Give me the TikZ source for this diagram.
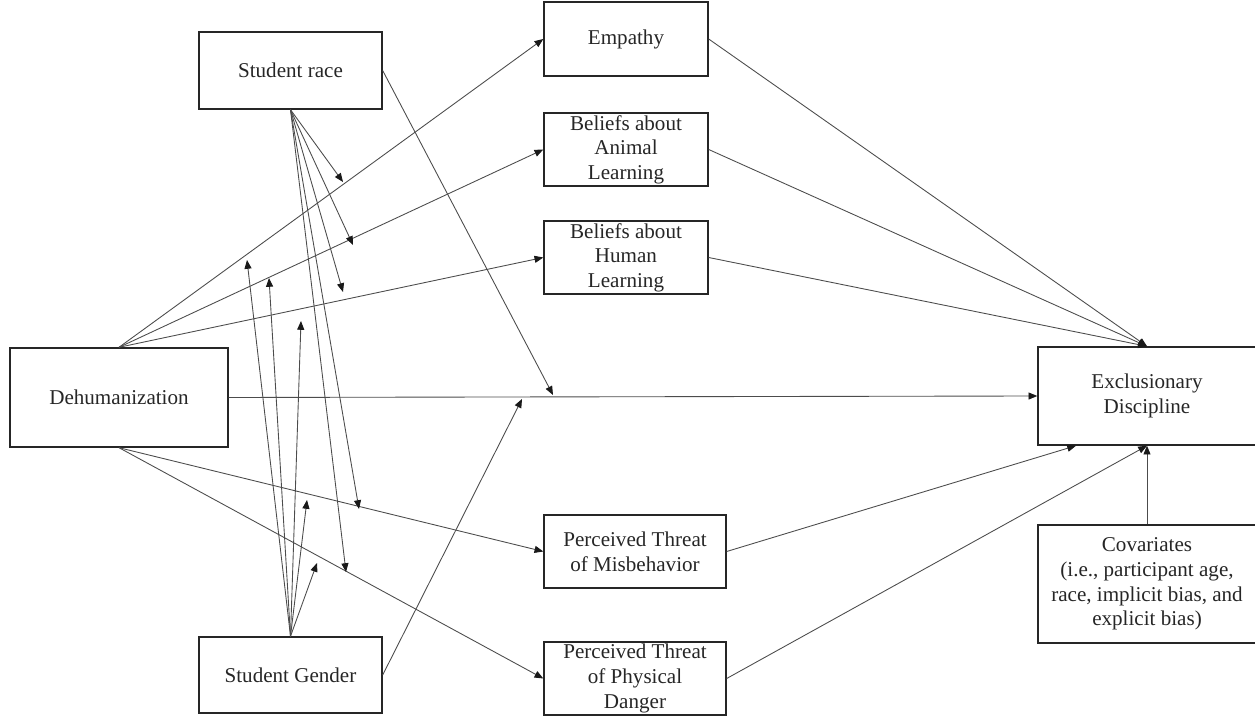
\documentclass[tikz,border=0pt]{standalone}
\usepackage{fontspec}
\setmainfont{Liberation Serif}
\usetikzlibrary{arrows.meta}
\usetikzlibrary{positioning}

\tikzset{
  box/.style={draw=black!85, line width=0.8pt, align=center, inner sep=0pt,
              font=\fontsize{12}{14}\selectfont, text=black!85},
  link/.style={draw=black!70, line width=0.5pt, -{Triangle[length=5pt,width=4pt,color=black!90]}}
}

\begin{document}
\begin{tikzpicture}[x=0.02cm, y=-0.02cm]
 \clip (0,0) rectangle (1255,719);

 %left column
 \node[box, minimum width=3.66cm, minimum height=1.54cm] (race) at (290.5,70.5) {Student race};
 \node[box, minimum width=4.36cm, minimum height=1.98cm] (dehum) at (119,397.5) {Dehumanization};
 \node[box, minimum width=3.66cm, minimum height=1.52cm] (gender) at (290.5,675) {Student Gender};

 %mediators
 \node[box, minimum width=3.28cm, minimum height=1.48cm] (empathy) at (626,39) {Empathy};
 \node[box, minimum width=3.28cm, minimum height=1.46cm] (animal) at (626,149.5) {Beliefs about\\Animal\\Learning};
 \node[box, minimum width=3.28cm, minimum height=1.46cm] (human) at (626,257.5) {Beliefs about\\Human\\Learning};
 \node[box, minimum width=3.64cm, minimum height=1.46cm] (misbeh) at (635,551.5) {Perceived Threat\\of Misbehavior};
 \node[box, minimum width=3.64cm, minimum height=1.46cm] (danger) at (635,678.5) {Perceived Threat\\of Physical\\Danger};

 %outcome
 \node[box, minimum width=4.36cm, minimum height=1.96cm] (excl) at (1147,396) {Exclusionary\\Discipline};
 \node[box, minimum width=4.36cm, minimum height=2.36cm] (cov) at (1147,584) {Covariates\\(i.e., participant age,\\race, implicit bias, and\\explicit bias)};

 %paths
 \foreach \n in {empathy,animal,human}
   \draw[link] (dehum.north) -- (\n.west);
 \foreach \n in {misbeh,danger}
   \draw[link] (dehum.south) -- (\n.west);
 \draw[link] (dehum.east) -- (excl.west);

 \foreach \n in {empathy,animal,human}
   \draw[link] (\n.east) -- (excl.north);
 \draw[link] (misbeh.east) -- (excl.215);
 \draw[link] (danger.east) -- (excl.south);
 \draw[link] (cov.north) -- (excl.south);

 %moderation
 \coordinate (rE) at (343,182);
 \coordinate (rA) at (353,245);
 \coordinate (rH) at (343,292);
 \coordinate (rM) at (359,509);
 \coordinate (rD) at (346,572);
 \coordinate (rX) at (553,395);

 \coordinate (gE) at (247,260);
 \coordinate (gA) at (269,278);
 \coordinate (gH) at (301,321);
 \coordinate (gM) at (307,500);
 \coordinate (gD) at (317,563);
 \coordinate (gX) at (522,399);

 \foreach \t in {rE,rA,rH,rM,rD}
   \draw[link] (race.south) -- (\t);
 \draw[link] (race.east) -- (rX);

 \foreach \t in {gE,gA,gH,gM,gD}
   \draw[link] (gender.north) -- (\t);
 \draw[link] (gender.east) -- (gX);

\end{tikzpicture}
\end{document}
